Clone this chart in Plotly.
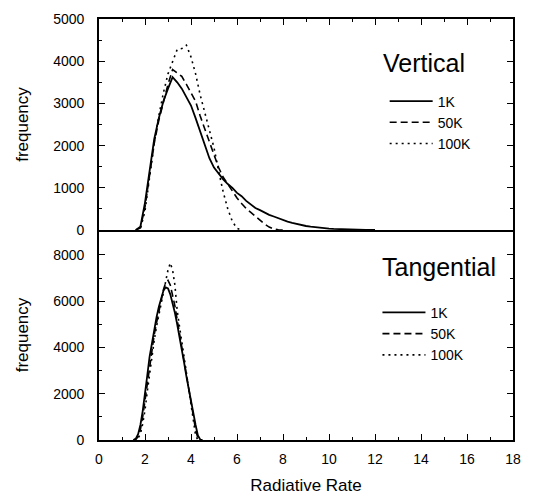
import plotly.graph_objects as go

# ---------------- data ----------------
# Vertical panel (top)
rate_v_1k = [1.6, 1.8, 2.0, 2.2, 2.4, 2.6, 2.8, 3.0, 3.2, 3.4, 3.6, 3.8, 4.0, 4.2, 4.4, 4.6, 4.8,
             5.0, 5.2, 5.4, 5.6, 5.8, 6.0, 6.2, 6.4, 6.6, 6.8, 7.0, 7.2, 7.4, 7.6, 7.8, 8.0, 8.2,
             8.4, 8.6, 8.8, 9.0, 9.2, 9.4, 9.6, 9.8, 10.0, 10.2, 10.4, 10.6, 10.8, 11.0, 11.2,
             11.4, 11.6, 11.8, 12.0]
freq_v_1k = [0, 80, 650, 1450, 2150, 2650, 3050, 3350, 3620, 3500, 3350, 3150, 2950, 2650, 2350,
             2050, 1700, 1480, 1330, 1200, 1090, 1000, 880, 800, 690, 600, 520, 470, 410, 360, 320,
             280, 230, 200, 170, 140, 115, 95, 80, 65, 52, 42, 34, 26, 20, 15, 11, 8, 5, 3, 2, 1, 0]

rate_v_50k = [1.6, 1.8, 2.0, 2.2, 2.4, 2.6, 2.8, 3.0, 3.2, 3.4, 3.6, 3.8, 4.0, 4.2, 4.4, 4.6, 4.8,
              5.0, 5.2, 5.4, 5.6, 5.8, 6.0, 6.2, 6.4, 6.6, 6.8, 7.0, 7.2, 7.4, 7.6, 7.8, 8.0]
freq_v_50k = [0, 50, 550, 1350, 2050, 2600, 3050, 3450, 3800, 3720, 3640, 3450, 3250, 3050, 2700,
              2400, 2080, 1750, 1480, 1250, 1080, 920, 760, 630, 510, 420, 320, 220, 140, 70, 25,
              5, 0]

rate_v_100k = [1.6, 1.8, 2.0, 2.2, 2.4, 2.6, 2.8, 3.0, 3.2, 3.4, 3.6, 3.8, 4.0, 4.2, 4.4, 4.6,
               4.8, 5.0, 5.2, 5.4, 5.6, 5.8, 6.0, 6.2]
freq_v_100k = [0, 30, 450, 1250, 2050, 2700, 3250, 3700, 4000, 4280, 4300, 4380, 4100, 3700, 3200,
               2800, 2350, 1950, 1400, 900, 500, 200, 40, 0]

# Tangential panel (bottom)
rate_t_1k = [1.5, 1.6, 1.7, 1.8, 1.9, 2.0, 2.1, 2.2, 2.3, 2.4, 2.5, 2.6, 2.7, 2.8, 2.9, 3.0, 3.1,
             3.2, 3.3, 3.4, 3.5, 3.6, 3.7, 3.8, 3.9, 4.0, 4.1, 4.2, 4.3, 4.4, 4.5]
freq_t_1k = [0, 60, 250, 650, 1250, 1950, 2800, 3600, 4200, 4800, 5300, 5750, 6150, 6450, 6600,
             6550, 6300, 5950, 5500, 5000, 4500, 3950, 3350, 2750, 2200, 1650, 1150, 650, 200, 20, 0]

rate_t_50k = [1.5, 1.6, 1.7, 1.8, 1.9, 2.0, 2.1, 2.2, 2.3, 2.4, 2.5, 2.6, 2.7, 2.8, 2.9, 3.0, 3.1,
              3.2, 3.3, 3.4, 3.5, 3.6, 3.7, 3.8, 3.9, 4.0, 4.1, 4.2, 4.3, 4.4]
freq_t_50k = [0, 20, 150, 450, 1000, 1700, 2500, 3300, 3950, 4550, 5050, 5550, 6050, 6500, 6800,
              6900, 6700, 6300, 5800, 5200, 4600, 4050, 3400, 2800, 2200, 1600, 1000, 450, 80, 0]

rate_t_100k = [1.5, 1.6, 1.7, 1.8, 1.9, 2.0, 2.1, 2.2, 2.3, 2.4, 2.5, 2.6, 2.7, 2.8, 2.9, 3.0,
               3.1, 3.2, 3.3, 3.4, 3.5, 3.6, 3.7, 3.8, 3.9, 4.0, 4.1, 4.2, 4.3]
freq_t_100k = [0, 10, 80, 250, 700, 1300, 2100, 2900, 3600, 4300, 4900, 5400, 5900, 6500, 6900,
               7350, 7650, 7350, 6700, 5600, 4900, 4300, 3600, 2900, 2250, 1600, 900, 200, 0]

series_names = ["1K", "50K", "100K"]
panel_titles = ["Vertical", "Tangential"]
x_ticks = [0, 2, 4, 6, 8, 10, 12, 14, 16, 18]
v_ticks = [0, 1000, 2000, 3000, 4000, 5000]
t_ticks = [0, 2000, 4000, 6000, 8000]

# ---------------- figure ----------------
FONT = "Liberation Sans, Arial, Helvetica, sans-serif"
dashes = ["solid", "7px,4px", "2px,4px"]
widths = [1.8, 1.6, 1.6]

fig = go.Figure()
top_data = [(rate_v_1k, freq_v_1k), (rate_v_50k, freq_v_50k), (rate_v_100k, freq_v_100k)]
bot_data = [(rate_t_1k, freq_t_1k), (rate_t_50k, freq_t_50k), (rate_t_100k, freq_t_100k)]

for i, (xs, ys) in enumerate(top_data):
    fig.add_trace(go.Scatter(x=xs, y=ys, mode="lines", name=series_names[i],
                             xaxis="x2", yaxis="y2", legend="legend",
                             line=dict(color="black", width=widths[i], dash=dashes[i])))
for i, (xs, ys) in enumerate(bot_data):
    fig.add_trace(go.Scatter(x=xs, y=ys, mode="lines", name=series_names[i],
                             xaxis="x", yaxis="y", legend="legend2",
                             line=dict(color="black", width=widths[i], dash=dashes[i])))

split = 0.4988
axis_common = dict(showgrid=False, zeroline=False, linecolor="black", linewidth=1.6,
                   ticks="inside", tickcolor="black", tickwidth=1.2, automargin=False,
                   tickfont=dict(size=14))
minor_style = dict(ticklen=3, ticks="inside", tickcolor="black", tickwidth=1.2)

fig.update_layout(
    width=530, height=496,
    margin=dict(l=90.5, r=25, t=11, b=64),
    paper_bgcolor="white", plot_bgcolor="white",
    font=dict(family=FONT, color="black", size=14),
    xaxis=dict(**axis_common, range=[0, 18], tickvals=x_ticks, ticklen=6,
               minor=dict(dtick=1, **minor_style),
               mirror=False, anchor="y", domain=[0, 1], ticklabelstandoff=5,
               title=dict(text="Radiative Rate", font=dict(size=17), standoff=14)),
    yaxis=dict(**axis_common, range=[0, 9080], tickvals=t_ticks, ticklen=6,
               minor=dict(dtick=1000, **minor_style),
               mirror="allticks", domain=[0, split], anchor="x", ticklabelstandoff=10,
               title=dict(text="frequency", font=dict(size=17), standoff=20)),
    xaxis2=dict(**axis_common, range=[0, 18], tickvals=x_ticks, ticklen=6, side="top",
                minor=dict(dtick=1, **minor_style),
                showticklabels=False, mirror=True, anchor="y2", matches="x"),
    yaxis2=dict(**axis_common, range=[0, 5000], tickvals=v_ticks, ticklen=6,
                minor=dict(dtick=500, **minor_style),
                mirror="allticks", domain=[split, 1], anchor="x2", ticklabelstandoff=10,
                title=dict(text="frequency", font=dict(size=17), standoff=20)),
    legend=dict(x=0.690, y=0.842, xanchor="left", yanchor="top", bgcolor="rgba(0,0,0,0)",
                font=dict(size=14), itemwidth=43, tracegroupgap=0),
    legend2=dict(x=0.6726, y=0.340, xanchor="left", yanchor="top", bgcolor="rgba(0,0,0,0)",
                 font=dict(size=14), itemwidth=43, tracegroupgap=0),
    annotations=[
        dict(text=panel_titles[0], x=12.27, y=3960, xref="x2", yref="y2", showarrow=False,
             xanchor="left", yanchor="middle", font=dict(size=25)),
        dict(text=panel_titles[1], x=12.22, y=7480, xref="x", yref="y", showarrow=False,
             xanchor="left", yanchor="middle", font=dict(size=25)),
    ],
)

fig.write_html("out.html")
